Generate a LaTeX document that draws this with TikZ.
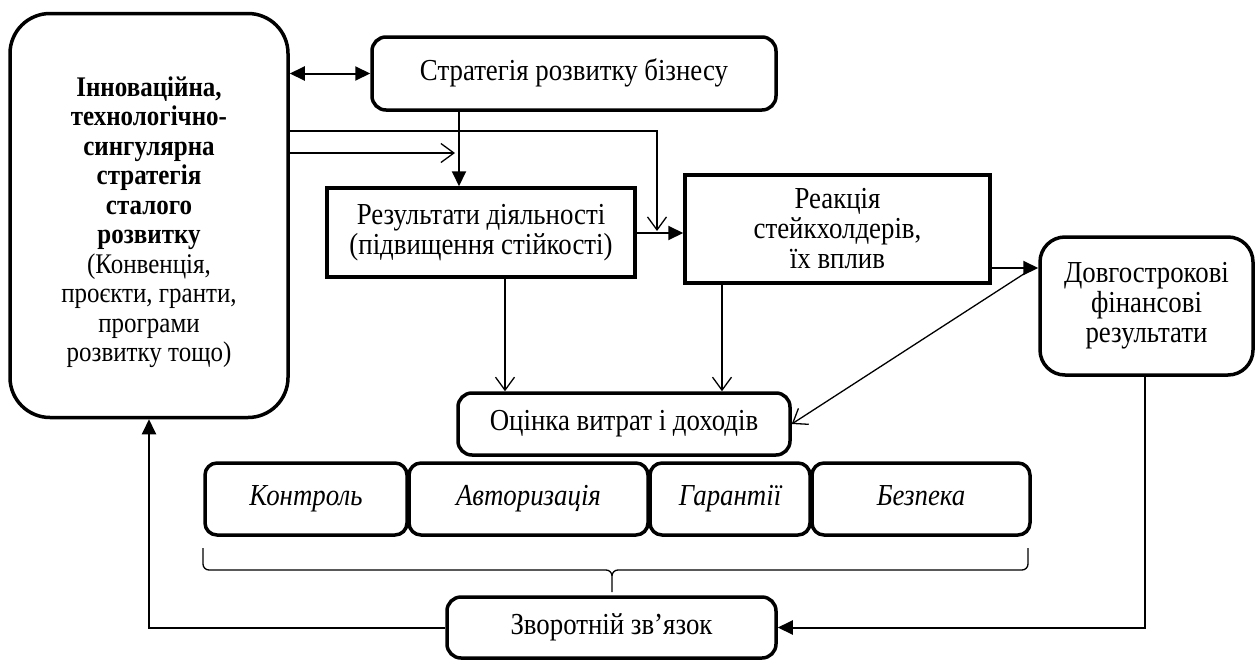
\documentclass[tikz,border=0pt]{standalone}
\usepackage{fontspec}
\setmainfont{Liberation Serif}[FakeStretch=0.88]
\usetikzlibrary{arrows.meta}
\begin{document}
\begin{tikzpicture}[x=1pt,y=-1pt,
  box/.style={draw,line width=3.5pt,align=center,inner sep=2pt,font=\fontsize{30.5}{30}\selectfont},
  rbox/.style={box,rounded corners=#1},
  one/.style={text height=20pt,text depth=7pt},
  thin/.style={line width=1.3pt},
  med/.style={line width=2pt},
  fa/.style={-{Triangle[length=15pt,width=14pt]}},
  oa/.style={-{Straight Barb[length=13pt,width=19pt,line width=1.3pt]}},
  it/.style={font=\fontsize{30.5}{30}\selectfont\itshape}
]
\useasboundingbox (0,0) rectangle (1256,659);
\node[rbox=40pt,minimum width=278pt,minimum height=404pt] (left) at (149,215.5) {};
\node[align=center,font=\fontsize{28.4}{29.5}\selectfont] (lefttxt) at (149,222)
 {\textbf{Інноваційна,}\\\textbf{технологічно-}\\\textbf{сингулярна}\\\textbf{стратегія}\\\textbf{сталого}\\\textbf{розвитку}\\(Конвенція,\\проєкти, гранти,\\програми\\розвитку тощо)};
\node[rbox=14pt,one,minimum width=404pt,minimum height=73pt] (strat) at (574,73.5) {Стратегія розвитку бізнесу};
\node[box,minimum width=308pt,minimum height=89pt] (res) at (481,232.5) {Результати діяльності\\(підвищення стійкості)};
\node[box,minimum width=305pt,minimum height=108pt] (reak) at (837.5,229) {Реакція\\стейкхолдерів,\\їх вплив};
\node[rbox=25pt,minimum width=213pt,minimum height=138pt] (dovg) at (1146.5,306) {Довгострокові\\фінансові\\результати};
\node[rbox=14pt,one,minimum width=332pt,minimum height=62pt] (ots) at (624,424) {Оцінка витрат і доходів};
\node[rbox=12pt,one,minimum width=202pt,minimum height=72pt,it] (k1) at (306,499) {Контроль};
\node[rbox=12pt,one,minimum width=239pt,minimum height=72pt,it] (k2) at (528.5,499) {Авторизація};
\node[rbox=12pt,one,minimum width=160pt,minimum height=72pt,it] (k3) at (730,499) {Гарантії};
\node[rbox=12pt,one,minimum width=218pt,minimum height=72pt,it] (k4) at (921,499) {Безпека};
\node[rbox=14pt,one,minimum width=329pt,minimum height=61pt] (fb) at (611.5,627.5) {Зворотній зв’язок};

\coordinate (yA) at (0,131);
\coordinate (yB) at (0,153);
\coordinate (xV) at (459,0);
\coordinate (jn) at (657,231);
\coordinate (tB) at (455,153);
\coordinate (yR) at (0,233);
\coordinate (yD) at (0,268);
\coordinate (dstart) at (1033,268);
\coordinate (x1) at (505,0);
\coordinate (x2) at (722,0);
\coordinate (xF) at (1145,0);

\draw[med,{Triangle[length=15pt,width=14pt]}-{Triangle[length=15pt,width=14pt]}] (left.east |- strat.west) -- (strat.west);
\draw[med,fa] (strat.south -| xV) -- (res.north -| xV);
\draw[thin,oa] (left.east |- yA) -| (jn);
\draw[thin,oa] (left.east |- yB) -- (tB);
\draw[med,fa] (res.east |- yR) -- (reak.west |- yR);
\draw[med,fa] (reak.east |- yD) -- (dovg.west |- yD);
\draw[thin,oa] (dstart) -- (ots.east);
\draw[thin,oa] (res.south -| x1) -- (ots.north -| x1);
\draw[thin,oa] (reak.south -| x2) -- (ots.north -| x2);
\draw[med,fa] (fb.west) -| (left.south);
\draw[med,fa] (dovg.south -| xF) |- (fb.east);

\draw[thin] (203,548) -- (203,564) to[out=-90,in=180] (209,570) -- (606,570) to[out=0,in=90] (612,576) -- (612,592)
  (612,576) to[out=90,in=180] (618,570) -- (1022,570) to[out=0,in=-90] (1028,564) -- (1028,548);
\end{tikzpicture}
\end{document}
